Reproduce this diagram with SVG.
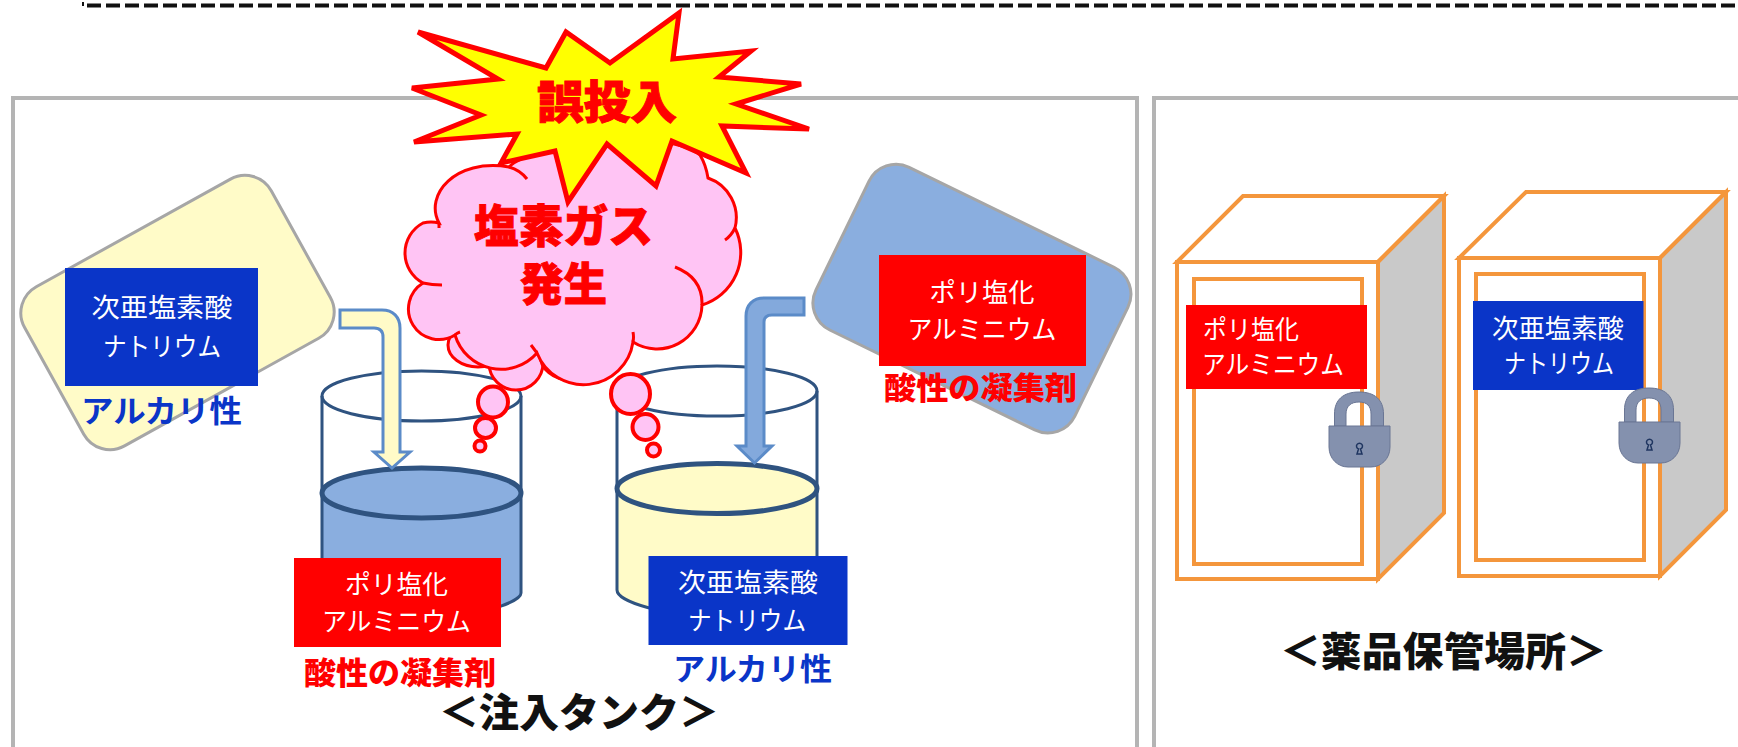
<svg xmlns="http://www.w3.org/2000/svg" width="1738" height="747" viewBox="0 0 1738 747">
<style>
text{font-family:"Noto Sans CJK JP","Noto Sans",sans-serif;text-anchor:middle}
.lab{font-size:26px;fill:#fff;font-weight:400}
.blue{font-weight:700;fill:#0a35c8;font-size:31px}
.red{font-weight:900;fill:#f00;font-size:31px}
.title{font-weight:900;fill:#111;font-size:40px}
.shout{font-weight:900;fill:#f00;stroke:#f00;stroke-width:1;font-size:45px}
.panel{fill:#fff;stroke:#b4b4b4;stroke-width:4}
.tank{fill:none;stroke:#2f5380;stroke-width:3}
.surf{stroke:#2f5380;stroke-width:5}
.alk{fill:#fffbc8}
.acid{fill:#8aaedf}
.card{stroke:#a6a6a6;stroke-width:3}
.rb{fill:#f00}
.bb{fill:#0a35c8}
.gas{fill:#ffc4f4;stroke:#f00;stroke-width:3}
.gasb{fill:#ffc4f4;stroke:#f00;stroke-width:4}
.hook{fill:none;stroke:#f00;stroke-width:3}
.cab{fill:#fff;stroke:#f4963c;stroke-width:4;stroke-linejoin:miter}
.side{fill:#c9c9c9;stroke:#f4963c;stroke-width:4}
.lock{fill:#8491ae;stroke:#6a7694;stroke-width:1;fill-rule:evenodd}
.key{fill:none;stroke:#1f3560;stroke-width:1.500}
</style>

<defs>
<g id="padlock">
<path class="lock" d="M5.500 34V22C5.500 8 14 0 30 0S54.500 8 54.500 22V34H42V22C42 14 38 10 30 10S17 14 17 22V34Z"/>
<path class="lock" d="M0 34H61V55C61 67 52 75 42 75H19C9 75 0 67 0 55Z"/>
<path class="key" d="M28 62H33L31.500 57A3 3 0 1 0 29.500 57Z"/>
</g>
</defs>

<path d="M83 2V6" fill="none" stroke="#111" stroke-width="2"/>
<path d="M87 5.500H1738" fill="none" stroke="#111" stroke-width="4" stroke-dasharray="14 5"/>

<g id="panel-tanks"><rect class="panel" x="13" y="98" width="1124" height="680"/></g>
<g id="panel-storage"><rect class="panel" x="1154" y="98" width="620" height="680"/></g>

<g id="tank-acid">
<path class="acid" d="M322 493V593C322 603 370 618 421 618S521 603 521 593V493Z"/>
<path class="tank" d="M322 396V593C322 603 370 618 421 618S521 603 521 593V396"/>
<ellipse class="tank" cx="421.500" cy="396" rx="99.500" ry="25"/>
<ellipse class="acid surf" cx="421.500" cy="493" rx="99.500" ry="25"/>
</g>

<g id="tank-alkali">
<path class="alk" d="M617 489V590C617 602 665 616 717 616S817 602 817 590V489Z"/>
<path class="tank" d="M617 391V590C617 602 665 616 717 616S817 602 817 590V391"/>
<ellipse class="tank" cx="717" cy="391" rx="100" ry="25"/>
<ellipse class="alk surf" cx="717" cy="488.500" rx="100" ry="25"/>
</g>

<g id="connectors">
<path d="M340 310H382C393 310 400 317 400 328V452H410L392 468L374 452H383V337C383 331 380 328 374 328H340Z" fill="#fffbc8" stroke="#5b8bc8" stroke-width="3"/>
<path d="M804 298H764C753 298 746 305 746 316V446H737L754.500 463L772 446H764V322C764 317 767 315 772 315H804Z" fill="#83a9dc" stroke="#5b8bc8" stroke-width="3"/>
</g>

<g id="card-alkali">
<rect class="alk card" x="36.500" y="221.500" width="282" height="182" rx="30" transform="rotate(-29 177.500 312.500)"/>
<rect class="bb" x="65" y="268" width="193" height="118"/>
<text class="lab" x="162" y="317" textLength="141" lengthAdjust="spacingAndGlyphs">次亜塩素酸</text>
<text class="lab" x="162" y="356" textLength="118" lengthAdjust="spacingAndGlyphs">ナトリウム</text>
<text class="blue" x="161.500" y="422" textLength="161" lengthAdjust="spacingAndGlyphs">アルカリ性</text>
</g>

<g id="card-acid">
<rect class="acid card" x="828" y="208" width="288" height="181" rx="30" transform="rotate(26 971.700 298.400)"/>
<rect class="rb" x="879" y="255" width="207" height="111"/>
<text class="lab" x="982" y="302" textLength="105" lengthAdjust="spacingAndGlyphs">ポリ塩化</text>
<text class="lab" x="982" y="339" textLength="149" lengthAdjust="spacingAndGlyphs">アルミニウム</text>
<text class="red" x="980.500" y="399" textLength="193" lengthAdjust="spacingAndGlyphs">酸性の凝集剤</text>
</g>

<g id="label-acid">
<rect class="rb" x="294" y="558" width="207" height="89"/>
<text class="lab" x="396.500" y="594" textLength="103" lengthAdjust="spacingAndGlyphs">ポリ塩化</text>
<text class="lab" x="396.500" y="631" textLength="149" lengthAdjust="spacingAndGlyphs">アルミニウム</text>
<text class="red" x="400" y="684" textLength="192" lengthAdjust="spacingAndGlyphs">酸性の凝集剤</text>
</g>

<g id="label-alkali">
<rect class="bb" x="648.500" y="556" width="199" height="89"/>
<text class="lab" x="748" y="592" textLength="140" lengthAdjust="spacingAndGlyphs">次亜塩素酸</text>
<text class="lab" x="747" y="630" textLength="118" lengthAdjust="spacingAndGlyphs">ナトリウム</text>
<text class="blue" x="752.500" y="680" textLength="159" lengthAdjust="spacingAndGlyphs">アルカリ性</text>
</g>

<g id="title-tanks"><text class="title" x="579" y="727" textLength="280" lengthAdjust="spacingAndGlyphs">＜注入タンク＞</text></g>

<g id="cabinet-1">
<path class="cab" d="M1177 262L1243 196H1444L1378 262Z"/>
<path class="side" d="M1378 262L1444 196V513L1378 579Z"/>
<rect class="cab" x="1177" y="262" width="201" height="317"/>
<rect class="cab" x="1194" y="279" width="168" height="285"/>
<rect class="rb" x="1186" y="305" width="181" height="84"/>
<text class="lab" x="1251" y="339" textLength="96" lengthAdjust="spacingAndGlyphs">ポリ塩化</text>
<text class="lab" x="1273" y="374" textLength="142" lengthAdjust="spacingAndGlyphs">アルミニウム</text>
<use href="#padlock" x="1329" y="392"/>
</g>

<g id="cabinet-2">
<path class="cab" d="M1459 258L1526 192H1726L1660 258Z"/>
<path class="side" d="M1660 258L1726 192V510L1660 576Z"/>
<rect class="cab" x="1459" y="258" width="201" height="318"/>
<rect class="cab" x="1476" y="274" width="168" height="286"/>
<rect class="bb" x="1473" y="301" width="170.500" height="89"/>
<text class="lab" x="1558" y="338" textLength="132" lengthAdjust="spacingAndGlyphs">次亜塩素酸</text>
<text class="lab" x="1559" y="373" textLength="110" lengthAdjust="spacingAndGlyphs">ナトリウム</text>
<use href="#padlock" x="1619" y="388"/>
</g>

<g id="title-storage"><text class="title" x="1443.500" y="666" textLength="327" lengthAdjust="spacingAndGlyphs">＜薬品保管場所＞</text></g>

<g id="gas-cloud">
<ellipse class="gas" cx="478" cy="345" rx="30" ry="22"/>
<ellipse class="gas" cx="516" cy="363" rx="27" ry="27"/>
<ellipse class="gas" cx="570" cy="355" rx="30" ry="25"/>
<path class="gas" d="M439 223C424 195 455 158 509 167C530 145 660 125 700 155Q706 165 708 178A42 42 0 0 1 735 228A55 55 0 0 1 702 305A45 45 0 0 1 633 342A50 50 0 0 1 537 353A48 48 0 0 1 455 335A30 30 0 0 1 423 283A34 34 0 0 1 423 223Q431 221 439 223Z"/>
<path class="hook" d="M509 167Q520 170 527 179M735 228Q731 236 725 240M702 305Q703 278 675 267M633 342Q634 337 633 332M537 353Q534 349 531 345M455 335Q457 333 460 332M423 283Q432 285 442 285M439 223V228"/>
<ellipse class="gasb" cx="493" cy="402" rx="15" ry="15.500"/>
<ellipse class="gasb" cx="485.500" cy="428" rx="10.500" ry="10"/>
<ellipse class="gasb" cx="480" cy="446" rx="5.500" ry="5.500"/>
<ellipse class="gasb" cx="630.500" cy="394" rx="19.500" ry="20"/>
<ellipse class="gasb" cx="645.500" cy="427" rx="13" ry="13"/>
<ellipse class="gasb" cx="653.500" cy="450" rx="6.500" ry="6.500"/>
<text class="shout" x="563.500" y="243" textLength="179" lengthAdjust="spacingAndGlyphs">塩素ガス</text>
<text class="shout" x="563.500" y="301" textLength="87" lengthAdjust="spacingAndGlyphs">発生</text>
</g>

<g id="misfeed-burst">
<path d="M418 32L546 68L566 32L610 63L679 13L673 59L751 51L719 77L801 84L736 104L809 129L722 126L746 173L672 141L656 186L607 144L568 202L555 151L501 163L517 134L414 142L481 115L412 88L498 79Z" fill="#ff0" stroke="#f00" stroke-width="5" stroke-linejoin="miter"/>
<text class="shout" x="607" y="119" textLength="140" lengthAdjust="spacingAndGlyphs">誤投入</text>
</g>
</svg>
